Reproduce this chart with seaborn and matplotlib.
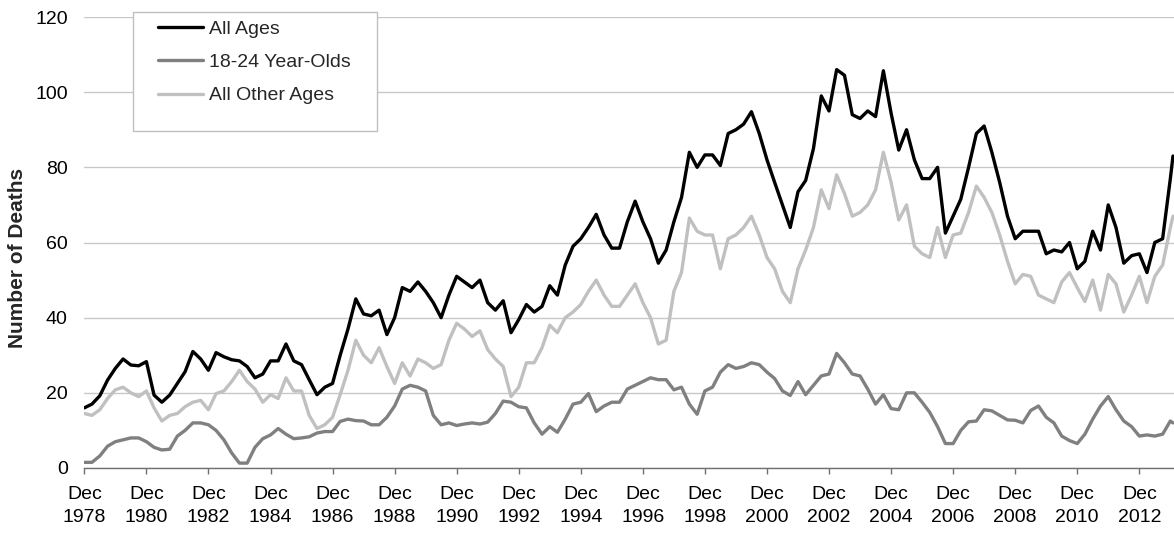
import matplotlib
matplotlib.use("Agg")
from matplotlib import pyplot as plt
from matplotlib.lines import Line2D
from matplotlib.patches import Rectangle
import pandas as pd
import seaborn as sns

# months after Dec 1978, read roughly every quarter off the picture
month_index = list(range(0, 421, 3)) + [421]

all_ages = [
    16, 17, 19.2, 23.4, 26.5, 29, 27.4, 27.2, 28.3, 19.4, 17.5, 19.4,
    22.5, 25.6, 31, 29, 26, 30.7, 29.6, 28.8, 28.5, 27, 24, 25,
    28.5, 28.5, 33, 28.5, 27.5, 23.5, 19.5, 21.5, 22.5, 30, 37, 45,
    41, 40.5, 42, 35.5, 40, 48, 47, 49.5, 47, 44, 40, 46,
    51, 49.5, 48, 50, 44, 42, 44.5, 36, 39.5, 43.5, 41.5, 43,
    48.5, 46, 54, 59, 61, 64, 67.5, 62, 58.5, 58.5, 65.5, 71,
    65.5, 61, 54.5, 58, 65.5, 72, 84, 80, 83.3, 83.3, 80.5, 89,
    90, 91.5, 94.8, 89, 82, 76, 70, 64, 73.5, 76.5, 85, 99,
    95, 106, 104.5, 94, 93, 95, 93.5, 105.7, 94.4, 84.6, 90, 82,
    77, 77, 80, 62.5, 67, 71.5, 80, 89, 91, 84, 76, 67,
    61, 63, 63, 63, 57, 58, 57.5, 60, 53, 55, 63, 58,
    70, 64, 54.5, 56.5, 57, 52, 60, 61, 77, 83,
]

youth = [
    1.5, 1.5, 3.2, 5.8, 7, 7.5, 8, 8, 7, 5.5, 4.8, 5,
    8.5, 10, 12, 12, 11.5, 10, 7.5, 4, 1.3, 1.3, 5.5, 7.8,
    8.8, 10.5, 9, 7.8, 8, 8.3, 9.3, 9.7, 9.7, 12.4, 13, 12.6,
    12.5, 11.5, 11.5, 13.5, 16.5, 21, 22, 21.5, 20.5, 14, 11.5, 12,
    11.3, 11.7, 12, 11.7, 12.2, 14.5, 17.8, 17.5, 16.3, 16, 12, 9,
    11, 9.5, 13, 17, 17.5, 19.8, 15, 16.5, 17.5, 17.5, 21, 22,
    23, 24, 23.5, 23.5, 20.8, 21.5, 17, 14.3, 20.5, 21.5, 25.5, 27.5,
    26.5, 27, 28, 27.5, 25.5, 23.8, 20.5, 19.3, 23, 19.5, 22, 24.5,
    25, 30.5, 28, 25, 24.5, 21, 17, 19.5, 15.8, 15.5, 20, 20,
    17.5, 14.8, 11, 6.5, 6.5, 10, 12.3, 12.5, 15.5, 15.2, 14, 12.8,
    12.7, 12, 15.3, 16.5, 13.5, 12, 8.5, 7.3, 6.5, 9, 13, 16.5,
    19, 15.5, 12.5, 11, 8.5, 8.8, 8.5, 9, 12.5, 12,
]

other_ages = [
    14.5, 14, 15.5, 18.5, 20.8, 21.5, 20, 19, 20.5, 16, 12.5, 14,
    14.5, 16.3, 17.5, 18, 15.5, 19.8, 20.5, 23, 26, 23, 21, 17.5,
    19.5, 18.5, 24, 20.5, 20.5, 14, 10.5, 11.5, 13.5, 19.5, 26, 34,
    30, 28, 32, 27, 22.5, 28, 24.5, 29, 28, 26.5, 27.5, 34,
    38.5, 37, 35, 36.5, 31.5, 29, 27, 19, 21.5, 28, 28, 32,
    38, 36, 40, 41.5, 43.5, 47, 50, 46, 43, 43, 46, 49,
    44, 40, 33, 34, 47, 52, 66.5, 63, 62, 62, 53, 61,
    62, 64, 67, 62, 56, 53, 47, 44, 53, 58, 64, 74,
    69, 78, 73, 67, 68, 70, 74, 84, 76, 66, 70, 59,
    57, 56, 64, 56, 62, 62.5, 68, 75, 72, 68, 62, 55,
    49, 51.5, 51, 46, 45, 44, 49.5, 52, 48, 44.3, 50, 42,
    51.5, 49, 41.5, 46, 51, 44, 51, 54, 64, 67,
]

series_names = ["All Ages", "18-24 Year-Olds", "All Other Ages"]
series_colors = ["#000000", "#808080", "#c0c0c0"]
tick_years = list(range(1978, 2013, 2))
y_ticks = [0, 20, 40, 60, 80, 100, 120]

dates = pd.date_range("1978-12-01", periods=422, freq="MS")[month_index]
frame = pd.concat(
    [
        pd.DataFrame({"date": dates, "deaths": values, "series": name})
        for name, values in zip(series_names, [all_ages, youth, other_ages])
    ],
    ignore_index=True,
)

sns.set_theme(style="white")
plt.rcParams["font.family"] = ["Liberation Sans", "DejaVu Sans"]
plt.rcParams["lines.solid_joinstyle"] = "round"

W, H = 1174, 543
fig = plt.figure(figsize=(W / 100, H / 100), dpi=100)
ax = fig.add_axes([84.3 / W, 75 / H, 1089.7 / W, 451 / H])

sns.lineplot(
    data=frame, x="date", y="deaths", hue="series", hue_order=series_names,
    palette=series_colors, linewidth=2.4, estimator=None, sort=False,
    legend=False, ax=ax,
)

ax.set_xlim(pd.Timestamp("1978-12-01"), pd.Timestamp("2014-01-13"))
ax.set_ylim(0, 120)
ax.set_yticks(y_ticks)
ax.set_xticks(
    pd.to_datetime([f"{y}-12-01" for y in tick_years]),
    [f"Dec\n{y}" for y in tick_years],
    linespacing=1.45,
)
ax.tick_params(axis="x", length=4.3, width=1, color="#707070", pad=9,
               labelsize=14, labelcolor="black", bottom=True)
ax.tick_params(axis="y", length=0, pad=12, labelsize=14, labelcolor="black")
ax.set_xlabel("")
ax.set_ylabel("")

ax.grid(axis="y", color="#c8c8c8", linewidth=1)
ax.grid(axis="x", visible=False)
ax.set_axisbelow(True)
for side in ["left", "top", "right"]:
    ax.spines[side].set_visible(False)
ax.spines["bottom"].set_color("#707070")
ax.spines["bottom"].set_linewidth(1)

fig.text(18 / W, 1 - 258 / H, "Number of Deaths", rotation=90,
         ha="center", va="center", fontsize=15, fontweight="bold")

# legend box drawn by hand so it can sit exactly where the original has it
box = Rectangle((132.7 / W, 1 - 130.7 / H), (377.3 - 132.7) / W, 119 / H,
                transform=fig.transFigure, facecolor="white",
                edgecolor="#c0c0c0", linewidth=1, zorder=3)
fig.add_artist(box)
handles = [Line2D([], [], color=c, linewidth=2.4) for c in series_colors]
leg = fig.legend(
    handles, series_names, loc="upper left",
    bbox_to_anchor=(158.3 / W, 1 - 20.5 / H), bbox_transform=fig.transFigure,
    frameon=False, borderpad=0, borderaxespad=0, fontsize=14,
    handlelength=2.32, handletextpad=0.31, labelspacing=0.8,
)
leg.set_zorder(5)

fig.savefig("out.png", dpi=100)
